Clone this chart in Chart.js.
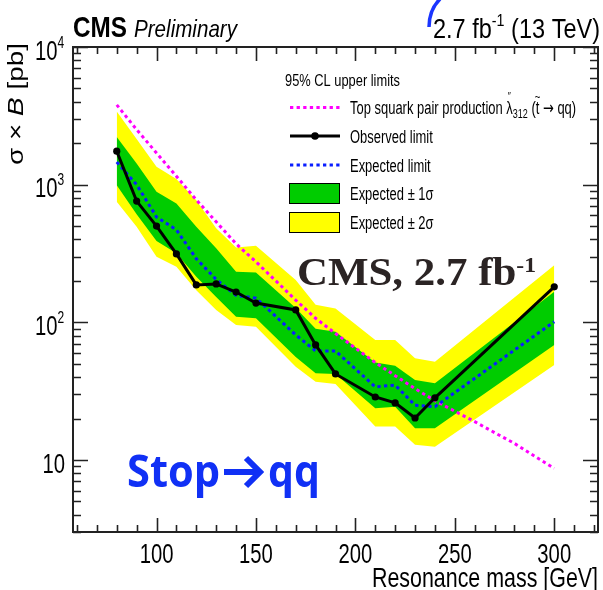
<!DOCTYPE html>
<html>
<head>
<meta charset="utf-8">
<script src="https://cdn.jsdelivr.net/npm/chart.js@4.4.1/dist/chart.umd.min.js"></script>
<style>
  body { margin: 0; background: #fff; }
</style>
</head>
<body>
<canvas id="chart" width="603" height="590"></canvas>
<script>
// mass points (GeV) of the limit scan
const masses = [80, 90, 100, 110, 120, 130, 140, 150, 170, 180, 190, 210, 220, 230, 240, 300];
const observed = [1750, 760, 500, 314, 187, 190, 166, 138, 123, 68.5, 42.2, 28.7, 26, 20.2, 28.3, 181];
const expected = [1460, 1000, 583, 470, 290, 205, 157, 150, 81, 62, 62, 34, 35, 25, 24.4, 101];
const plus2 = [3400, 2150, 1350, 1100, 772, 483, 350, 360, 203, 134, 126, 74.4, 74.4, 54.8, 51.8, 260];
const plus1 = [2220, 1425, 887, 731, 494, 346, 233, 230, 127, 90, 85.5, 51, 48.3, 38.1, 36.1, 167];
const minus1 = [991, 611, 389, 318, 214, 153, 110, 107, 56, 42.6, 42.2, 23.8, 24.4, 17, 17, 68.4];
const minus2 = [750, 494, 299, 253, 171, 123, 95.5, 93, 47.6, 37.1, 35.6, 17.5, 17.5, 12.9, 12.5, 49];

// theory curve, top squark pair production
const theoryMass = [80, 90, 100, 110, 120, 130, 140, 150, 160, 170, 180, 190, 200, 210, 220, 230, 240, 250, 260, 270, 280, 290, 300];
const theoryXsec = [3800, 2510, 1700, 1150, 776, 537, 372, 275, 200, 145, 107, 83, 65, 51, 41, 33, 27, 22.6, 19, 15.8, 13.2, 10.7, 8.7];

const xTicks = [100, 150, 200, 250, 300];
const yDecades = [10, 100, 1000, 10000];

const pts = (xs, ys) => xs.map((m, i) => ({ x: m, y: ys[i] }));

const SANS = '"Liberation Sans", Arial, sans-serif';

// draws a row of text pieces [text, font, dy], squeezed horizontally
function rich(ctx, parts, x, y, opt) {
  ctx.save();
  let w = 0;
  for (const p of parts) { ctx.font = p[1]; w += ctx.measureText(p[0]).width; }
  const sx = opt.width ? opt.width / w : (opt.sx || 1);
  let x0 = x;
  if (opt.align === 'right') x0 = x - w * sx;
  if (opt.align === 'center') x0 = x - w * sx / 2;
  ctx.translate(x0, y);
  ctx.scale(sx, 1);
  ctx.fillStyle = opt.color || '#000';
  ctx.textBaseline = 'alphabetic';
  let cx = 0;
  for (const p of parts) {
    ctx.font = p[1];
    ctx.fillText(p[0], cx, p[2] || 0);
    cx += ctx.measureText(p[0]).width;
  }
  ctx.restore();
  return x0 + w * sx;
}

const frame = {
  id: 'frame',
  afterDatasetsDraw(chart) {
    const { ctx, chartArea: a, scales: { x, y } } = chart;
    ctx.save();
    ctx.strokeStyle = '#222';
    ctx.lineWidth = 1.6;

    // x ticks, bottom and top
    ctx.beginPath();
    for (let m = 60; m <= 320; m += 10) {
      const px = Math.round(x.getPixelForValue(m)) + 0.5;
      const len = m % 50 === 0 ? 14 : 7;
      ctx.moveTo(px, a.bottom); ctx.lineTo(px, a.bottom - len);
      ctx.moveTo(px, a.top); ctx.lineTo(px, a.top + len);
    }
    // y ticks, left and right
    for (let e = 0; e <= 4; e++) {
      for (let k = 1; k <= 9; k++) {
        const v = k * Math.pow(10, e);
        if (v < 3 || v > 10000) continue;
        const py = Math.round(y.getPixelForValue(v)) + 0.5;
        const len = k === 1 ? 15 : 8;
        ctx.moveTo(a.left, py); ctx.lineTo(a.left + len, py);
        ctx.moveTo(a.right, py); ctx.lineTo(a.right - len, py);
      }
    }
    ctx.stroke();
    ctx.lineWidth = 2;
    ctx.strokeRect(a.left, a.top, a.right - a.left, a.bottom - a.top);

    // tick labels
    const F = '27px ' + SANS, FS = '16px ' + SANS;
    for (const m of xTicks) {
      rich(ctx, [[String(m), F]], x.getPixelForValue(m), 563, { sx: 0.75, align: 'center' });
    }
    for (const v of yDecades) {
      const py = y.getPixelForValue(v) + 12.5;
      const n = Math.round(Math.log10(v));
      if (n === 1) rich(ctx, [['10', F]], 65, py, { sx: 0.75, align: 'right' });
      else rich(ctx, [['10', F], [String(n), FS, -12]], 35, py, { sx: 0.75 });
    }

    // axis titles
    rich(ctx, [['Resonance mass [GeV]', '28px ' + SANS]], 598, 587, { width: 226, align: 'right' });
    ctx.save();
    ctx.translate(23, 165);
    ctx.rotate(-Math.PI / 2);
    ctx.scale(1, 0.78);
    rich(ctx, [['\u03c3 \u00d7 ', '28px ' + SANS], ['B', 'italic 28px ' + SANS], [' [pb]', '28px ' + SANS]], 0, 0, { width: 122 });
    ctx.restore();

    // header
    rich(ctx, [['CMS', 'bold 30px ' + SANS]], 73, 36.5, { width: 54 });
    rich(ctx, [['Preliminary', 'italic 24px ' + SANS]], 134, 36.5, { width: 103 });
    rich(ctx, [['2.7 fb', '28px ' + SANS], ['-1', '17px ' + SANS, -12], [' (13 TeV)', '28px ' + SANS]], 600, 37.5, { width: 167, align: 'right' });
    ctx.strokeStyle = '#1a35ff';
    ctx.lineWidth = 3.5;
    ctx.beginPath();
    ctx.moveTo(440, -1);
    ctx.quadraticCurveTo(429, 10, 429, 27);
    ctx.stroke();

    // legend
    const LF = '18px ' + SANS;
    rich(ctx, [['95% CL upper limits', '17px ' + SANS]], 285, 85.5, { width: 115 });
    ctx.lineWidth = 3;
    ctx.setLineDash([3.3, 3.3]);
    ctx.strokeStyle = '#ff00ff';
    ctx.beginPath(); ctx.moveTo(290, 107.5); ctx.lineTo(340, 107.5); ctx.stroke();
    ctx.strokeStyle = '#0a1eff';
    ctx.beginPath(); ctx.moveTo(290, 165); ctx.lineTo(340, 165); ctx.stroke();
    ctx.setLineDash([]);
    ctx.strokeStyle = '#000';
    ctx.beginPath(); ctx.moveTo(290, 136); ctx.lineTo(340, 136); ctx.stroke();
    ctx.fillStyle = '#000';
    ctx.beginPath(); ctx.arc(315, 136, 3.8, 0, Math.PI * 2); ctx.fill();
    ctx.lineWidth = 1;
    ctx.fillStyle = '#00cc00';
    ctx.fillRect(289.5, 183.5, 50, 20); ctx.strokeRect(289.5, 183.5, 50, 20);
    ctx.fillStyle = '#ffff00';
    ctx.fillRect(289.5, 212.5, 50, 20); ctx.strokeRect(289.5, 212.5, 50, 20);

    let ex = rich(ctx, [['Top squark pair production ', LF], ['\u03bb', LF]], 350, 114, { sx: 0.72 });
    rich(ctx, [['\u2033', '11px ' + SANS]], ex - 5, 100, { sx: 0.8 });
    ex = rich(ctx, [['312', '12px ' + SANS]], ex, 118, { sx: 0.75 });
    ex = rich(ctx, [[' (', LF]], ex, 114, { sx: 0.72 });
    const tx = ex;
    ex = rich(ctx, [['t', LF]], ex, 114, { sx: 0.72 });
    rich(ctx, [['~', '12px ' + SANS]], (tx + ex) / 2, 101, { sx: 0.8, align: 'center' });
    ex = rich(ctx, [[' ', LF], ['\u2192', '18px "DejaVu Sans", sans-serif'], [' qq)', LF]], ex, 114, { sx: 0.72 });
    rich(ctx, [['Observed limit', LF]], 350, 142.5, { sx: 0.72 });
    rich(ctx, [['Expected limit', LF]], 350, 171.5, { sx: 0.72 });
    rich(ctx, [['Expected \u00b1 1\u03c3', LF]], 350, 199.5, { sx: 0.72 });
    rich(ctx, [['Expected \u00b1 2\u03c3', LF]], 350, 228.5, { sx: 0.72 });

    // overlay labels
    rich(ctx, [['CMS, 2.7 fb', 'bold 40px "Liberation Serif", serif'], ['-1', 'bold 22px "Liberation Serif", serif', -13]], 297, 285, { width: 239, color: '#2b2424' });
    const BF = 'bold 44px "Open Sans", "Noto Sans", sans-serif';
    const blue = '#1030f5';
    rich(ctx, [['Stop', BF]], 127, 487, { width: 93, color: blue });
    rich(ctx, [['qq', BF]], 268, 487, { width: 52, color: blue });
    ctx.strokeStyle = blue;
    ctx.lineWidth = 6;
    ctx.lineJoin = 'miter';
    ctx.lineCap = 'butt';
    ctx.beginPath();
    ctx.moveTo(224, 472); ctx.lineTo(259, 472);
    ctx.moveTo(246, 458); ctx.lineTo(260, 472); ctx.lineTo(246, 486);
    ctx.stroke();
    ctx.restore();
  }
};

const ctx = document.getElementById('chart').getContext('2d');
new Chart(ctx, {
  type: 'line',
  data: {
    datasets: [
      { data: pts(masses, plus2), fill: '+1', backgroundColor: '#ffff00', borderWidth: 0, pointRadius: 0, order: 10 },
      { data: pts(masses, minus2), fill: false, borderWidth: 0, pointRadius: 0, order: 10 },
      { data: pts(masses, plus1), fill: '+1', backgroundColor: '#00cc00', borderWidth: 0, pointRadius: 0, order: 9 },
      { data: pts(masses, minus1), fill: false, borderWidth: 0, pointRadius: 0, order: 9 },
      { label: 'theory', data: pts(theoryMass, theoryXsec), borderColor: '#ff00ff', borderWidth: 3, borderDash: [3.3, 3.3], pointRadius: 0, fill: false, order: 3 },
      { label: 'expected', data: pts(masses, expected), borderColor: '#0a1eff', borderWidth: 3, borderDash: [3.3, 3.3], pointRadius: 0, fill: false, order: 2 },
      { label: 'observed', data: pts(masses, observed), borderColor: '#000', borderWidth: 3, pointRadius: 3.6, pointBorderWidth: 0, pointBackgroundColor: '#000', fill: false, order: 1 }
    ]
  },
  options: {
    animation: false,
    responsive: false,
    layout: { padding: { left: 73, top: 47, right: 5, bottom: 58 } },
    plugins: { legend: { display: false }, tooltip: { enabled: false } },
    scales: {
      x: { type: 'linear', min: 58, max: 322, display: false },
      y: { type: 'logarithmic', min: 3, max: 10000, display: false }
    }
  },
  plugins: [frame]
});
</script>
</body>
</html>
